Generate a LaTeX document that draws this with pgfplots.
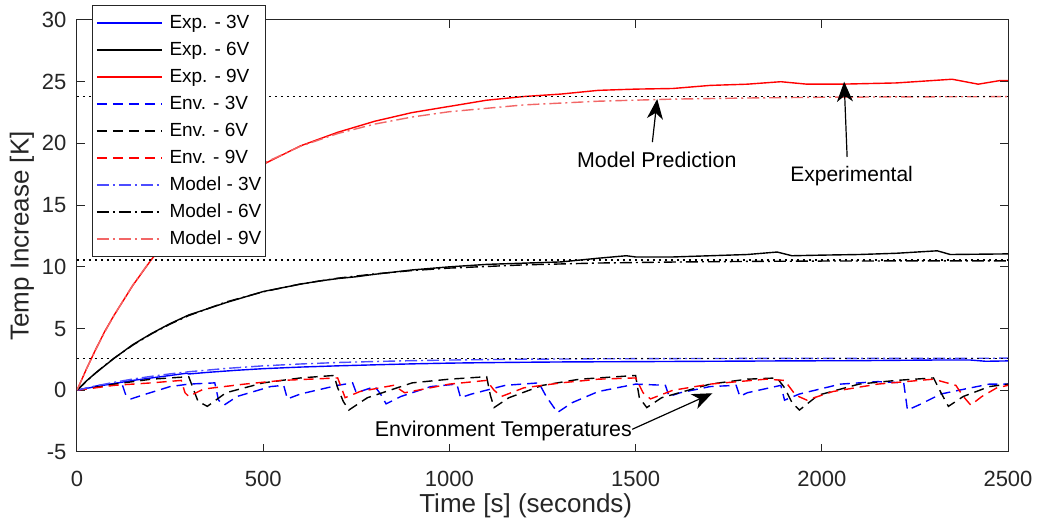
\documentclass[border=0pt]{standalone}
\usepackage{fontspec}
\setmainfont{Liberation Sans}
\usepackage{pgfplots}
\pgfplotsset{compat=1.18}
\usetikzlibrary{arrows.meta}
\definecolor{axgray}{rgb}{0.15,0.15,0.15}
\definecolor{modblue}{rgb}{0.3,0.3,1}
\definecolor{modred}{rgb}{0.95,0.4,0.4}
\begin{document}
\begin{tikzpicture}
\useasboundingbox (0,0) rectangle (520pt,259.5pt);
\begin{axis}[
  at={(38.5pt,33.5pt)}, anchor=south west,
  scale only axis, width=465.5pt, height=216pt,
  xmin=0, xmax=2500, ymin=-5, ymax=30,
  xtick={0,500,...,2500}, ytick={-5,0,...,30},
  tick align=inside, major tick length=4pt,
  axis line style={axgray, line width=0.5pt},
  tick style={axgray, line width=0.5pt},
  tick label style={font=\fontsize{11}{13}\selectfont, text=axgray},
  /pgf/number format/assume math mode=true,
  /pgf/number format/1000 sep={},
  xticklabel shift=5.8pt, yticklabel shift=1.8pt,
  xlabel={Time [s] (seconds)}, ylabel={Temp Increase [K]},
  every axis x label/.style={at={(axis description cs:0.482,-0.124)}, anchor=center, font=\fontsize{13}{15}\selectfont, text=axgray},
  every axis y label/.style={at={(axis description cs:-0.0591,0.5)}, anchor=center, rotate=90, font=\fontsize{13}{15}\selectfont, text=axgray},
  legend style={at={(rel axis cs:0.0158,1.0347)}, anchor=north west,
    font=\fontsize{9.5}{11}\selectfont, draw=axgray, fill=white,
    inner xsep=2pt, inner ysep=2pt, row sep=0pt,
    nodes={inner sep=0pt, text height=9.3pt, text depth=4.2pt},
    /tikz/every odd column/.append style={column sep=3.5pt}},
  legend cell align=left,
  legend image code/.code={\draw[#1] (0pt,0pt) -- (32.5pt,0pt);},
  every axis plot/.append style={line width=0.7pt},
]
% Experimental
\addplot[blue] coordinates {
(0,0) (20,0.12) (50,0.3) (100,0.55) (150,0.8) (200,1.0) (250,1.2) (294,1.38) (300,1.32)
(350,1.45) (428,1.62) (500,1.75) (600,1.88) (700,1.98) (821,2.08) (900,2.14) (1000,2.2)
(1100,2.24) (1200,2.27) (1322,2.3) (1500,2.32) (1700,2.35) (1900,2.38) (2100,2.4)
(2215,2.43) (2300,2.45) (2400,2.45) (2440,2.35) (2500,2.38)};
\addlegendentry{Exp. - 3V}
\addplot[black] coordinates {
(0,0) (25,0.75) (50,1.4) (75,2.0) (100,2.6) (150,3.7) (200,4.6) (250,5.4) (300,6.1)
(350,6.6) (400,7.1) (450,7.55) (500,8.0) (550,8.3) (600,8.6) (650,8.85) (700,9.05)
(750,9.2) (800,9.4) (900,9.75) (1000,10.0) (1100,10.2) (1200,10.3) (1300,10.4)
(1400,10.7) (1475,10.9) (1500,10.8) (1600,10.8) (1700,10.9) (1800,11.0) (1880,11.2)
(1920,10.9) (2000,10.95) (2100,11.0) (2200,11.1) (2310,11.3) (2345,11.0) (2500,11.05)};
\addlegendentry{Exp. - 6V}
\addplot[red] coordinates {
(0,0) (25,1.7) (50,3.3) (75,4.8) (100,6.1) (150,8.5) (200,10.6) (250,12.4) (300,14.0)
(400,16.5) (500,18.3) (600,19.8) (700,20.9) (800,21.8) (900,22.5) (1000,23.0)
(1100,23.5) (1200,23.8) (1300,24.0) (1400,24.3) (1500,24.4) (1600,24.45) (1700,24.7)
(1800,24.8) (1890,25.0) (1960,24.8) (2050,24.8) (2200,24.9) (2350,25.2) (2420,24.8)
(2480,25.1) (2500,25.1)};
\addlegendentry{Exp. - 9V}
% Environment
\addplot[blue, dash pattern=on 5pt off 3pt] coordinates {
(0,0) (60,0.4) (120,0.6) (130,-0.3) (145,-0.7) (175,-0.4) (250,0.3) (300,0.5) (370,0.6)
(380,-0.8) (395,-1.2) (430,-0.5) (520,0.3) (555,0.4) (565,-0.7) (600,-0.3) (700,0.4)
(740,0.6) (750,-0.2) (800,0.3) (815,-0.3) (830,-1.1) (870,-0.5) (950,0.3) (1020,0.5)
(1030,-0.6) (1060,-0.3) (1150,0.4) (1240,0.6) (1260,-0.5) (1290,-1.8) (1330,-1.0)
(1400,-0.1) (1500,0.5) (1580,0.4) (1590,-0.5) (1620,-0.2) (1700,0.3) (1770,0.4)
(1780,-0.5) (1800,-0.2) (1890,0.4) (1900,-0.8) (1940,-0.3) (2050,0.5) (2150,0.7)
(2220,0.6) (2230,-1.6) (2260,-1.2) (2320,-0.3) (2400,0.2) (2450,0.5) (2500,0.5)};
\addlegendentry{Env. - 3V}
\addplot[black, dash pattern=on 5pt off 3pt] coordinates {
(0,0) (100,0.5) (200,0.9) (300,1.1) (310,0.3) (325,-0.9) (350,-1.3) (400,-0.2) (500,0.6)
(600,1.0) (690,1.2) (700,0.2) (715,-0.9) (730,-1.6) (780,-0.6) (900,0.6) (1000,0.9)
(1100,1.1) (1110,-0.4) (1120,-1.4) (1160,-0.6) (1250,0.4) (1350,0.9) (1450,1.1)
(1500,1.2) (1510,-0.6) (1530,-1.4) (1570,-0.6) (1700,0.5) (1800,0.9) (1880,1.0)
(1900,0.2) (1920,-1.0) (1940,-1.6) (1990,-0.4) (2100,0.5) (2200,0.8) (2300,1.0)
(2320,-0.2) (2340,-1.3) (2380,-0.5) (2450,0.3) (2500,0.5)};
\addlegendentry{Env. - 6V}
\addplot[red, dash pattern=on 5pt off 3pt] coordinates {
(0,0) (100,0.4) (200,0.6) (280,0.8) (290,-0.2) (300,-0.5) (340,0.1) (450,0.5) (550,0.8)
(700,1.0) (710,0.2) (720,-0.6) (760,-0.1) (850,0.4) (880,-0.2) (1000,0.5) (1100,0.8)
(1120,0.0) (1140,-0.5) (1200,0.2) (1300,0.6) (1400,0.9) (1500,1.0) (1520,-0.2)
(1540,-0.7) (1600,0.0) (1700,0.5) (1850,0.9) (1900,0.8) (1930,-0.4) (1960,-0.8)
(2030,-0.1) (2150,0.5) (2300,0.9) (2360,0.4) (2380,-0.5) (2400,-1.2) (2430,-0.5)
(2470,0.2) (2500,0.4)};
\addlegendentry{Env. - 9V}
% Model
\addplot[modblue, dash pattern=on 6pt off 2pt on 1pt off 2pt] coordinates {
(0,0) (25,0.18) (50,0.35) (75,0.5) (100,0.65) (150,0.91) (200,1.13) (250,1.33) (300,1.5)
(400,1.77) (500,1.98) (600,2.13) (700,2.25) (800,2.33) (900,2.4) (1000,2.45) (1200,2.52)
(1400,2.55) (1600,2.57) (1800,2.58) (2000,2.59) (2200,2.59) (2500,2.6)};
\addlegendentry{Model - 3V}
\addplot[black, dash pattern=on 6pt off 2pt on 1pt off 2pt] coordinates {
(0,0) (25,0.72) (50,1.4) (75,2.03) (100,2.61) (150,3.66) (200,4.57) (250,5.36) (300,6.05)
(400,7.15) (500,7.98) (600,8.61) (700,9.08) (800,9.43) (900,9.7) (1000,9.9) (1200,10.16)
(1400,10.31) (1600,10.39) (1800,10.44) (2000,10.47) (2200,10.48) (2500,10.49)};
\addlegendentry{Model - 6V}
\addplot[modred, dash pattern=on 6pt off 2pt on 1pt off 2pt] coordinates {
(0,0) (25,1.7) (50,3.27) (75,4.74) (100,6.1) (150,8.53) (200,10.64) (250,12.45) (300,14.01)
(400,16.52) (500,18.38) (600,19.77) (700,20.8) (800,21.57) (900,22.14) (1000,22.57)
(1200,23.12) (1400,23.42) (1600,23.59) (1800,23.68) (2000,23.74) (2200,23.77) (2500,23.79)};
\addlegendentry{Model - 9V}
% steady-state dotted lines
\addplot[forget plot, black, line width=0.6pt, dash pattern=on 0.8pt off 2.2pt] coordinates {(0,23.8) (2500,23.8)};
\addplot[forget plot, black, line width=0.6pt, dash pattern=on 0.8pt off 2.2pt] coordinates {(0,10.55) (2500,10.55)};
\addplot[forget plot, black, line width=0.6pt, dash pattern=on 0.8pt off 2.2pt] coordinates {(0,2.6) (2500,2.6)};
% annotations
\draw[-{Stealth[length=10pt,width=8pt,inset=3pt]}, line width=0.6pt] (axis cs:1545,20.1) -- (axis cs:1558,23.6);
\draw[-{Stealth[length=10pt,width=8pt,inset=3pt]}, line width=0.6pt] (axis cs:2068,18.9) -- (axis cs:2060,25.0);
\draw[-{Stealth[length=10pt,width=8pt,inset=3pt]}, line width=0.6pt] (axis cs:1491,-3.16) -- (axis cs:1706,-0.24);
\node[anchor=base, font=\fontsize{10.7}{12}\selectfont, text=black] at (axis cs:1557,18.07) {Model Prediction};
\node[anchor=base, font=\fontsize{10.5}{12}\selectfont, text=black] at (axis cs:2080,16.94) {Experimental};
\node[anchor=base, font=\fontsize{10.7}{12}\selectfont, text=black] at (axis cs:1145,-3.78) {Environment Temperatures};
\end{axis}
\end{tikzpicture}
\end{document}
